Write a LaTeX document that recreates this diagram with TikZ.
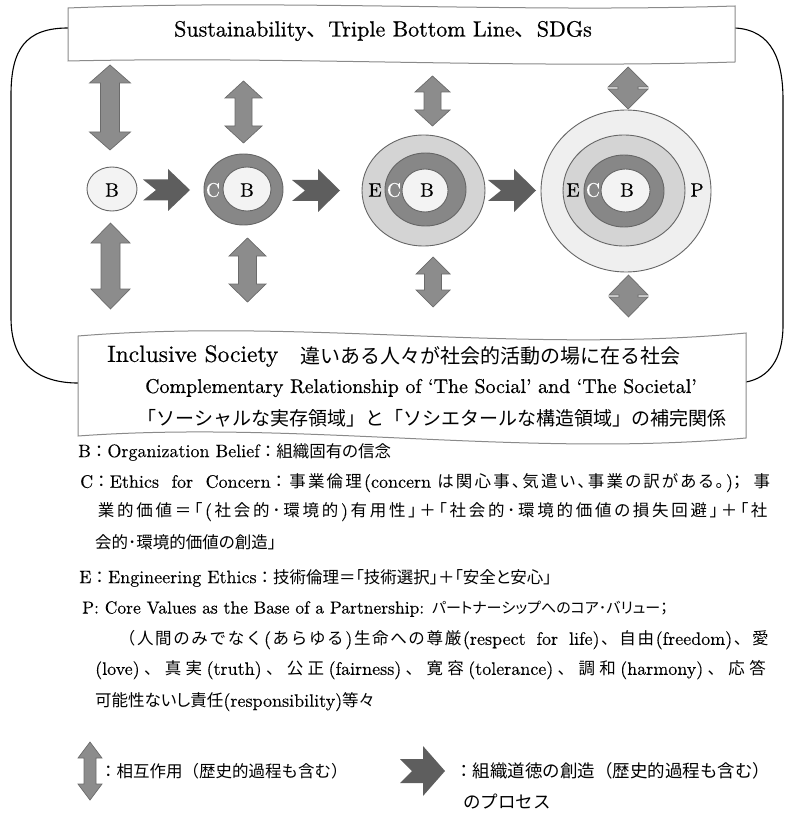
\documentclass[tikz,border=0pt]{standalone}
\usepackage{fontspec}
\usetikzlibrary{shapes.geometric}
\newfontfamily\jp{Noto Sans CJK JP}
\newfontfamily\jpp[RawFeature=+palt]{Noto Sans CJK JP}
\newfontfamily\lmsb[FakeBold=0.6]{lmroman10-regular.otf}
\newfontfamily\lmr[FakeBold=0.25]{lmroman10-regular.otf}
\newcommand\fsz[1]{\fontsize{#1}{#1}\selectfont}
\newcommand\J[1]{{\jpp\fsz{16.5}#1}}
\newcommand\JF[1]{{\jp\fsz{16.5}#1}}
\newcommand\JS[1]{\hskip 0pt plus 1pt{\jp\fsz{16.5}#1}\hskip 0pt plus 1pt\relax}
\newcommand\JP[1]{\hskip 0pt plus 1pt{\jpp\fsz{16.5}#1}\hskip 0pt plus 1pt\relax}
% stretchable glue between CJK characters (for justified lines)
\XeTeXinterchartokenstate=1
\newXeTeXintercharclass\cjkcls
\newcount\cjkc
\cjkc="3000 \loop\ifnum\cjkc<"3100 \XeTeXcharclass\cjkc=\cjkcls\advance\cjkc by 1 \repeat
\cjkc="4E00 \loop\ifnum\cjkc<"A000 \XeTeXcharclass\cjkc=\cjkcls\advance\cjkc by 1 \repeat
\cjkc="FF00 \loop\ifnum\cjkc<"FFF0 \XeTeXcharclass\cjkc=\cjkcls\advance\cjkc by 1 \repeat
\XeTeXinterchartoks\cjkcls\cjkcls={\hskip 0pt plus 1pt\relax}

\definecolor{vfill}{HTML}{8C8C8C}
\definecolor{vline}{HTML}{6B6B6B}
\definecolor{rfill}{HTML}{5E5E5E}
\definecolor{pfill}{HTML}{EFEFEF}
\definecolor{efill}{HTML}{D4D4D4}
\definecolor{cfill}{HTML}{878787}
\definecolor{bfill}{HTML}{F3F3F3}
\definecolor{ringline}{HTML}{666666}
\definecolor{bannerline}{HTML}{8A8A8A}

% vertical double block arrow: cx, ytop, ybot, head half width, shaft half width, head length
\newcommand\vdarr[6]{%
  \draw[varr] (#1,#2) -- ({#1+#4},{#2+#6}) -- ({#1+#5},{#2+#6}) -- ({#1+#5},{#3-#6})
    -- ({#1+#4},{#3-#6}) -- (#1,#3) -- ({#1-#4},{#3-#6}) -- ({#1-#5},{#3-#6})
    -- ({#1-#5},{#2+#6}) -- ({#1-#4},{#2+#6}) -- cycle;}
% notched right block arrow: x0, x1, cy, head half height, shaft half height, head length, notch
\newcommand\rblock[7]{%
  \fill[rarr] (#1,{#3-#5}) -- ({#2-#6},{#3-#5}) -- ({#2-#6},{#3-#4}) -- (#2,#3)
    -- ({#2-#6},{#3+#4}) -- ({#2-#6},{#3+#5}) -- (#1,{#3+#5}) -- ({#1+#7},#3) -- cycle;}

\begin{document}
\begin{tikzpicture}[x=1pt,y=-1pt,
  ring/.style={ellipse, draw=ringline, line width=0.9pt, inner sep=0pt},
  letter/.style={inner sep=0pt, font=\lmr\fsz{19.5}},
  txt/.style={anchor=west, inner sep=0pt},
  varr/.style={fill=vfill, draw=vline, line width=0.7pt, line join=miter},
  rarr/.style={fill=rfill},
  banner/.style={fill=white, draw=bannerline, line width=1pt},
  frame/.style={draw=black, line width=1.1pt}]
\useasboundingbox (0,0) rectangle (786,818);

% outer frame
\coordinate (tl) at (68,28);
\coordinate (tr) at (735,28);
\coordinate (bl) at (78,383);
\coordinate (br) at (746,382);
\draw[frame] (tl) .. controls (25,28) and (11,50) .. (11,95) -- (11,318) .. controls (11,365) and (40,383) .. (bl);
\draw[frame] (tr) .. controls (772,30) and (783,60) .. (783,100) -- (783,325) .. controls (783,360) and (768,378) .. (br);

% banners
\draw[banner] (68,8) .. controls (290,-1) and (510,13) .. (735,6) -- (735,62)
   .. controls (510,69) and (290,56) .. (68,61) -- cycle;
\draw[banner] (78,336) .. controls (300,318) and (520,354) .. (746,333) -- (746,438)
   .. controls (520,458) and (300,420) .. (78,436) -- cycle;

\node[anchor=center, inner sep=0pt] (top) at (383,31)
  {\lmsb\fsz{22}Sustainability{\jp\fsz{22}、}Triple Bottom Line{\jp\fsz{22}、}SDGs};
\node[txt] (inc) at (107,356) {\lmsb\fsz{23.5}Inclusive Society};
\node[txt] (incj) at (300,356) {\jp\fsz{20}違いある人々が社会的活動の場に在る社会};
\node[txt] (comp) at (145,388) {\lmsb\fsz{19.9}Complementary Relationship of ‘The Social’ and ‘The Societal’};
\node[txt] (compj) at (137,418) {\jp\fsz{19}「ソーシャルな実存領域」と「ソシエタールな構造領域」の補完関係};

% stage 1
\node[ring, fill=bfill, minimum width=50pt, minimum height=44pt] (b1) at (112,189) {};
\node[letter] (b1l) at (112,190) {B};
% stage 2
\node[ring, fill=cfill, minimum width=79pt, minimum height=71pt] (c2) at (243.5,189.5) {};
\node[ring, fill=bfill, minimum width=48pt, minimum height=44pt] (b2) at (247,189) {};
\node[letter, text=white] (c2l) at (213,190) {C};
\node[letter] (b2l) at (247,190) {B};
% stage 3
\node[ring, fill=efill, minimum width=123pt, minimum height=111pt] (e3) at (423.5,190.5) {};
\node[ring, fill=cfill, minimum width=81pt, minimum height=73pt] (c3) at (425.5,189.5) {};
\node[ring, fill=bfill, minimum width=46pt, minimum height=43pt] (b3) at (425,190.5) {};
\node[letter] (e3l) at (375,190) {E};
\node[letter, text=white] (c3l) at (394,190) {C};
\node[letter] (b3l) at (427,190) {B};
% stage 4
\node[ring, fill=pfill, minimum width=170pt, minimum height=162pt] (p4) at (626,191) {};
\node[ring, fill=efill, minimum width=122pt, minimum height=111pt] (e4) at (624,190.5) {};
\node[ring, fill=cfill, minimum width=80pt, minimum height=72pt] (c4) at (624,191) {};
\node[ring, fill=bfill, minimum width=49pt, minimum height=43pt] (b4) at (625.5,190.5) {};
\node[letter] (e4l) at (573,190) {E};
\node[letter, text=white] (c4l) at (593,190) {C};
\node[letter] (b4l) at (627,190) {B};
\node[letter] (p4l) at (697,190) {P};

% process arrows
\rblock{143}{190}{190}{21}{10.5}{22}{13}
\rblock{292}{340}{190.5}{21.5}{10.5}{22}{13}
\rblock{488}{536}{190.5}{21.5}{10.5}{22}{13}

% interaction arrows
\vdarr{110}{65}{150}{20.5}{9.5}{18}
\vdarr{110.5}{223}{309}{19.5}{9.5}{20}
\vdarr{243.5}{81}{143}{18.5}{8.5}{17}
\vdarr{247.5}{238}{302}{18.5}{9}{18}
\vdarr{432.5}{76}{126}{17.5}{8.5}{16}
\vdarr{433}{257}{307}{17}{8.5}{17}
\vdarr{628}{67}{109}{20}{10}{20}
\vdarr{628.5}{275}{317}{19.5}{9.5}{20}

% explanations
\node[txt] (lb) at (78,452) {\lmr\fsz{18}B\JF{：}Organization Belief\JF{：}\J{組織固有の信念}};
\node[txt] (lc1) at (80,483) {\lmr\fsz{18}\makebox[690pt][s]{C\JF{：}Ethics for Concern\JF{：}\JP{事業倫理}(concern\hskip 4pt\JP{は関心事、気遣い、事業の訳がある。})\J{；} \J{事}}};
\node[txt] (lc2) at (95,512) {\lmr\fsz{18}\makebox[675pt][s]{\JP{業的価値＝「}(\JP{社会的･環境的})\JP{有用性」＋「社会的･環境的価値の損失回避」＋「社}}};
\node[txt] (lc3) at (95,542) {\lmr\fsz{18}\J{会的･環境的価値の創造」}};
\node[txt] (le) at (79,578) {\lmr\fsz{18}E\JF{：}Engineering Ethics\JF{：}\J{技術倫理＝「技術選択」＋「安全と安心」}};
\node[txt] (lp1) at (82,609) {\lmr\fsz{17.5}P: Core Values as the Base of a Partnership: {\jpp\fsz{15}パートナーシップへのコア･バリュー；}};
\node[txt] (lp2) at (117,640) {\lmr\fsz{18}\makebox[653pt][s]{\JS{（人間のみでなく}(\JS{あらゆる})\JS{生命への尊厳}(respect for life)\JS{、自由}(freedom)\JS{、愛}}};
\node[txt] (lp3) at (95,670) {\lmr\fsz{18}\makebox[675pt][s]{(love)\JS{、真実}(truth)\JS{、公正}(fairness)\JS{、寛容}(tolerance)\JS{、調和}(harmony)\JS{、応答}}};
\node[txt] (lp4) at (95,702) {\lmr\fsz{18}\J{可能性ないし責任}(responsibility)\J{等々}};

% legend
\vdarr{90}{742}{800}{12}{6}{16}
\node[txt] (lg1) at (100,771) {\JF{：相互作用（歴史的過程も含む）}};
\rblock{400}{445}{771}{25}{12}{22}{12}
\node[txt] (lg2) at (455,771) {{\jp\fsz{17.5}：組織道徳の創造（歴史的過程も含む）}};
\node[txt] (lg3) at (463,802) {{\jp\fsz{17.5}のプロセス}};
\end{tikzpicture}
\end{document}
